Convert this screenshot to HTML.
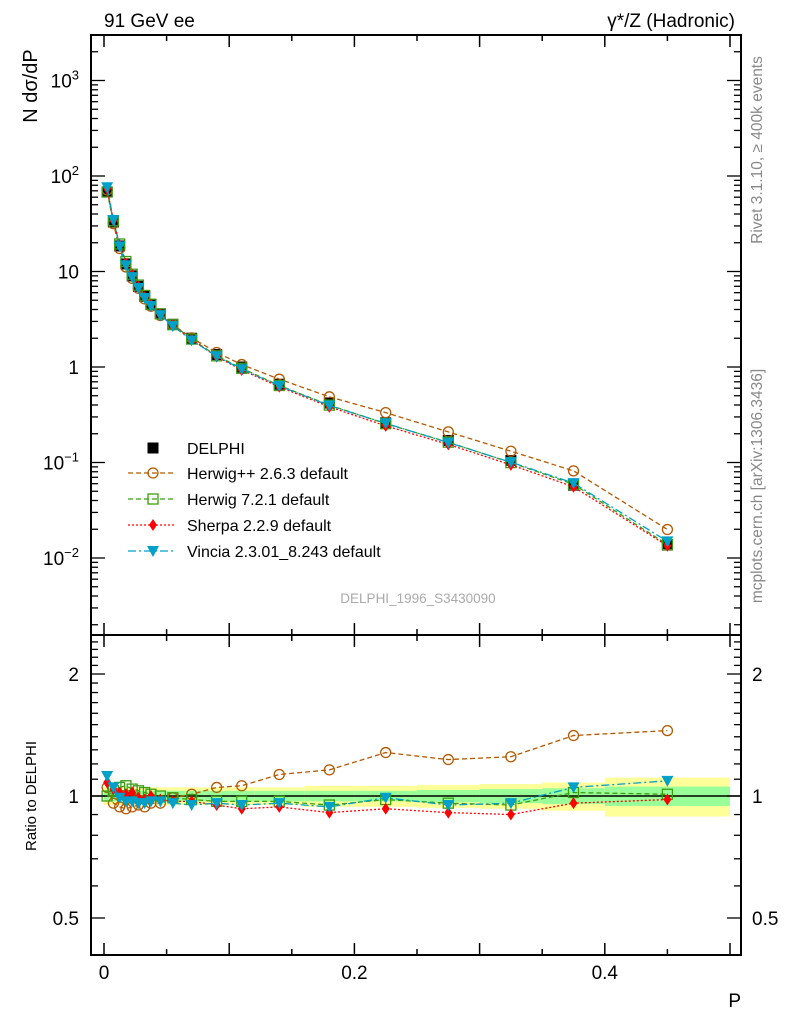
<!DOCTYPE html>
<html><head><meta charset="utf-8"><style>
body{margin:0;background:#fff;}
svg{display:block;font-family:"Liberation Sans",sans-serif;}
</style></head><body>
<svg id="chart" width="786" height="1024" viewBox="0 0 786 1024" xmlns="http://www.w3.org/2000/svg">
<g id="bands"></g>
<g id="marks"></g>
<g id="axes"></g>
<text x="104" y="27" font-size="19">91 GeV ee</text>
<text x="735" y="27" font-size="19" text-anchor="end">γ*/Z (Hadronic)</text>
<text transform="translate(762,150) rotate(-90)" font-size="15.5" fill="#888" text-anchor="middle">Rivet 3.1.10, ≥ 400k events</text>
<text transform="translate(762,486) rotate(-90)" font-size="15.5" fill="#888" text-anchor="middle">mcplots.cern.ch [arXiv:1306.3436]</text>
<text x="418" y="603" font-size="13.5" fill="#aaa" text-anchor="middle">DELPHI_1996_S3430090</text>
<text transform="translate(37,86) rotate(-90)" font-size="20" text-anchor="middle">N dσ/dP</text>
<text transform="translate(36,796) rotate(-90)" font-size="15" text-anchor="middle">Ratio to DELPHI</text>
<text x="741" y="1007" font-size="19" text-anchor="end">P</text>
<g id="legend"></g>
</svg>
<script>
const xs=[0.0025,0.0075,0.0125,0.0175,0.0225,0.0275,0.0325,0.0375,0.045,0.055,0.07,0.09,0.11,0.14,0.18,0.225,0.275,0.325,0.375,0.45];
const edges=[0,0.005,0.01,0.015,0.02,0.025,0.03,0.035,0.04,0.05,0.06,0.08,0.1,0.12,0.16,0.2,0.25,0.3,0.35,0.4,0.5];
const dataVals=[68,33,18.5,12,9,7,5.5,4.5,3.6,2.8,2.0,1.35,1.0,0.66,0.42,0.26,0.17,0.105,0.058,0.0137];
const errStat=[0.03,0.03,0.03,0.03,0.03,0.03,0.03,0.03,0.03,0.03,0.03,0.03,0.03,0.03,0.03,0.03,0.035,0.04,0.045,0.055];
const errTot=[0.05,0.05,0.05,0.05,0.05,0.05,0.05,0.05,0.05,0.05,0.05,0.05,0.05,0.05,0.06,0.06,0.065,0.07,0.08,0.11];
const rHpp=[1.05,0.96,0.94,0.93,0.94,0.95,0.94,0.96,0.96,0.99,1.01,1.05,1.06,1.13,1.16,1.28,1.23,1.25,1.41,1.45];
const rH7=[1.00,1.03,1.05,1.06,1.04,1.03,1.02,1.01,1.00,0.99,0.98,0.97,0.97,0.97,0.95,0.98,0.96,0.95,1.02,1.01];
const rSh=[1.08,1.04,1.02,1.01,1.02,0.99,0.98,1.00,0.98,0.97,0.97,0.95,0.93,0.94,0.91,0.93,0.91,0.90,0.96,0.98];
const rVi=[1.12,1.05,0.99,0.97,0.97,0.96,0.96,0.97,0.97,0.96,0.95,0.96,0.95,0.96,0.94,0.99,0.95,0.96,1.05,1.09];
const xTicks=[0,0.2,0.4];
const yTicks=[[-2,'10<tspan dy="-8" font-size="13">−2</tspan>'],[-1,'10<tspan dy="-8" font-size="13">−1</tspan>'],[0,'1'],[1,'10'],[2,'10<tspan dy="-8" font-size="13">2</tspan>'],[3,'10<tspan dy="-8" font-size="13">3</tspan>']];
const rTicks=[0.5,1,2];

const L=91,R=741,T=35,MB=635,RB=955;
const X=p=>104+p*1252;
const Y=v=>367-95.5*Math.log10(v);
const YR=r=>796-122*Math.log2(r);
const NS="http://www.w3.org/2000/svg";
function mk(parent,tag,attrs){const e=document.createElementNS(NS,tag);for(const k in attrs)e.setAttribute(k,attrs[k]);document.getElementById(parent).appendChild(e);return e;}

for(let i=0;i<xs.length;i++){
 const x0=X(edges[i]),x1=X(edges[i+1]);
 let e=mk('bands','rect',{x:x0,y:YR(1+errTot[i]),width:x1-x0,height:YR(1-errTot[i])-YR(1+errTot[i]),fill:'#ffff99'});
 
 
 e=mk('bands','rect',{x:x0,y:YR(1+errStat[i]),width:x1-x0,height:YR(1-errStat[i])-YR(1+errStat[i]),fill:'#99ff99'});
 
 
}
let ln=mk('bands','line',{x1:L,x2:R,y1:YR(1),y2:YR(1),stroke:'#000','stroke-width':1.5});



function marker(g,type,x,y,color){
 let e;
 if(type==='circ')e=mk(g,'circle',{cx:x,cy:y,r:5,fill:'none',stroke:color,'stroke-width':1.3});
 else if(type==='sq')e=mk(g,'rect',{x:x-5,y:y-5,width:10,height:10,fill:'none',stroke:color,'stroke-width':1.3});
 else if(type==='dia')e=mk(g,'polygon',{points:`${x},${y-6} ${x+4},${y} ${x},${y+6} ${x-4},${y}`,fill:color});
 else if(type==='tri')e=mk(g,'polygon',{points:`${x-6},${y-5} ${x+6},${y-5} ${x},${y+6}`,fill:color});
 else e=mk(g,'rect',{x:x-5.5,y:y-5.5,width:11,height:11,fill:color});
 return e;
}
const series=[
 {name:'herwigpp',r:rHpp,color:'#b35900',dash:'5,3',m:'circ',label:'Herwig++ 2.6.3 default'},
 {name:'herwig7',r:rH7,color:'#3a9e10',dash:'5,3',m:'sq',label:'Herwig 7.2.1 default'},
 {name:'sherpa',r:rSh,color:'#ff0000',dash:'2,2',m:'dia',label:'Sherpa 2.2.9 default'},
 {name:'vincia',r:rVi,color:'#00a0c8',dash:'8,3,2,3',m:'tri',label:'Vincia 2.3.01_8.243 default'}
];
for(let i=0;i<xs.length;i++){const e=marker('marks','sq0',X(xs[i]),Y(dataVals[i]),'#000');
 
 }
series.forEach(s=>{
 const pm=xs.map((x,i)=>X(x)+','+Y(dataVals[i]*s.r[i])).join(' ');
 let p=mk('marks','polyline',{points:pm,fill:'none',stroke:s.color,'stroke-width':1.3,'stroke-dasharray':s.dash});
 
 
 const pr=xs.map((x,i)=>X(x)+','+YR(s.r[i])).join(' ');
 p=mk('marks','polyline',{points:pr,fill:'none',stroke:s.color,'stroke-width':1.3,'stroke-dasharray':s.dash});
 
 
 xs.forEach((x,i)=>{
  let e=marker('marks',s.m,X(x),Y(dataVals[i]*s.r[i]),s.color);
  
  
  e=marker('marks',s.m,X(x),YR(s.r[i]),s.color);
  
  
 });
});
[[T,MB],[MB,RB]].forEach(([t,b],k)=>{
 const e=mk('axes','rect',{x:L,y:t,width:R-L,height:b-t,fill:'none',stroke:'#000','stroke-width':2});
 
 
 for(let v=0;v<=0.5001;v+=0.05){const big=Math.abs(v*10-Math.round(v*10))<1e-6;const len=big?12:6;
  mk('axes','line',{x1:X(v),x2:X(v),y1:b,y2:b-len,stroke:'#000','stroke-width':1.5});
  mk('axes','line',{x1:X(v),x2:X(v),y1:t,y2:t+len,stroke:'#000','stroke-width':1.5});}
});
xTicks.forEach(v=>{const e=mk('axes','text',{x:X(v),y:979,'font-size':19,'text-anchor':'middle'});e.textContent=String(v);
 
 });
for(let d=-3;d<=3;d++)for(let m=1;m<10;m++){const v=m*Math.pow(10,d);const y=Y(v);if(y<T||y>MB)continue;const len=m===1?14:7;
 mk('axes','line',{x1:L,x2:L+len,y1:y,y2:y,stroke:'#000','stroke-width':1.3});
 mk('axes','line',{x1:R,x2:R-len,y1:y,y2:y,stroke:'#000','stroke-width':1.3});}
yTicks.forEach(([d,lab])=>{const e=mk('axes','text',{x:79,y:Y(Math.pow(10,d))+7,'font-size':19,'text-anchor':'end'});e.innerHTML=lab;
 
 });
for(let v=0.4;v<=2.5001;v+=0.1){const y=YR(v);if(y<MB||y>RB)continue;const major=[0.5,1,2].some(m=>Math.abs(m-v)<1e-6);const len=major?14:7;
 mk('axes','line',{x1:L,x2:L+len,y1:y,y2:y,stroke:'#000','stroke-width':1.3});
 mk('axes','line',{x1:R,x2:R-len,y1:y,y2:y,stroke:'#000','stroke-width':1.3});}
rTicks.forEach(v=>{let e=mk('axes','text',{x:79,y:YR(v)+7,'font-size':19,'text-anchor':'end'});e.textContent=String(v);
 
 
 e=mk('axes','text',{x:752,y:YR(v)+7,'font-size':19});e.textContent=String(v);
 
 });
const ly=[448,473,499,525,551];
let e=marker('legend','sq0',153,ly[0],'#000');


let t=mk('legend','text',{x:187,y:ly[0]+6,'font-size':16});t.textContent='DELPHI';


series.forEach((s,i)=>{const y=ly[i+1];
 const l=mk('legend','line',{x1:128,x2:176,y1:y,y2:y,stroke:s.color,'stroke-width':1.3,'stroke-dasharray':s.dash});
 
 
 const m=marker('legend',s.m,153,y,s.color);
 
 
 const tx=mk('legend','text',{x:187,y:y+6,'font-size':16});tx.textContent=s.label;
 
 });
</script>
</body></html>
